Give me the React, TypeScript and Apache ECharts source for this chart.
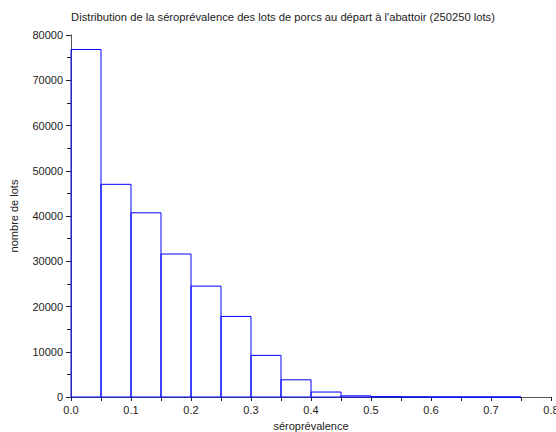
import React, { useEffect, useRef } from "react";
import * as echarts from "echarts";

const binStarts = [0.0, 0.05, 0.1, 0.15, 0.2, 0.25, 0.3, 0.35, 0.4, 0.45, 0.5, 0.55, 0.6, 0.65, 0.7];
const counts = [76800, 47000, 40700, 31600, 24500, 17800, 9200, 3800, 1100, 250, 80, 40, 20, 10, 5];
const binWidth = 0.05;
const title = "Distribution de la séroprévalence des lots de porcs au départ à l'abattoir (250250 lots)";
const xName = "séroprévalence";
const yName = "nombre de lots";

export default function App() {
  const ref = useRef<HTMLDivElement>(null);
  useEffect(() => {
    if (!ref.current) return;
    const chart = echarts.init(ref.current, null, { renderer: "svg" });
    const font = "Liberation Sans, Arial, sans-serif";
    chart.setOption({
      animation: false,
      textStyle: { fontFamily: font },
      title: {
        text: title,
        left: 278,
        top: 6,
        textAlign: "center",
        textStyle: { fontSize: 11.2, fontWeight: "normal", color: "#222", fontFamily: font },
      },
      grid: { left: 71, right: 5, top: 35, bottom: 35, containLabel: false, outerBoundsMode: "none" },
      xAxis: {
        type: "value",
        min: 0,
        max: 0.8,
        interval: 0.1,
        name: xName,
        nameLocation: "middle",
        nameGap: 23,
        nameTextStyle: { fontSize: 11, color: "#222", fontFamily: font },
        axisLine: { show: true, onZero: false, lineStyle: { color: "#555", width: 1 } },
        axisTick: { show: true, inside: false, length: 4, lineStyle: { color: "#222" } },
        minorTick: { show: true, splitNumber: 2, length: 4, lineStyle: { color: "#222" } },
        axisLabel: { fontSize: 11, color: "#222", margin: 7, formatter: (v: number) => v.toFixed(1) },
        splitLine: { show: false },
      },
      yAxis: {
        type: "value",
        min: 0,
        max: 80000,
        interval: 10000,
        name: yName,
        nameLocation: "middle",
        nameGap: 52,
        nameRotate: 90,
        nameTextStyle: { fontSize: 11, color: "#222", fontFamily: font },
        axisLine: { show: true, lineStyle: { color: "#555", width: 1 } },
        axisTick: { show: true, inside: false, length: 5, lineStyle: { color: "#222" } },
        minorTick: { show: true, splitNumber: 2, length: 4, lineStyle: { color: "#222" } },
        axisLabel: { fontSize: 11, color: "#222", margin: 8, formatter: (v: number) => String(v) },
        splitLine: { show: false },
      },
      series: [
        {
          type: "custom",
          data: binStarts.map((s, i) => [s, counts[i]]),
          encode: { x: 0, y: 1 },
          renderItem: (params: any, api: any) => {
            const s = api.value(0);
            const c = api.value(1);
            const p1 = api.coord([s, c]);
            const p2 = api.coord([s + binWidth, 0]);
            return {
              type: "rect",
              shape: { x: p1[0], y: p1[1], width: p2[0] - p1[0], height: p2[1] - p1[1] },
              style: { fill: "none", stroke: "#0000ff", lineWidth: 1 },
            };
          },
        },
      ],
    });
    return () => chart.dispose();
  }, []);
  return <div ref={ref} style={{ width: 556, height: 432, position: "absolute", left: 0, top: 0 }} />;
}
